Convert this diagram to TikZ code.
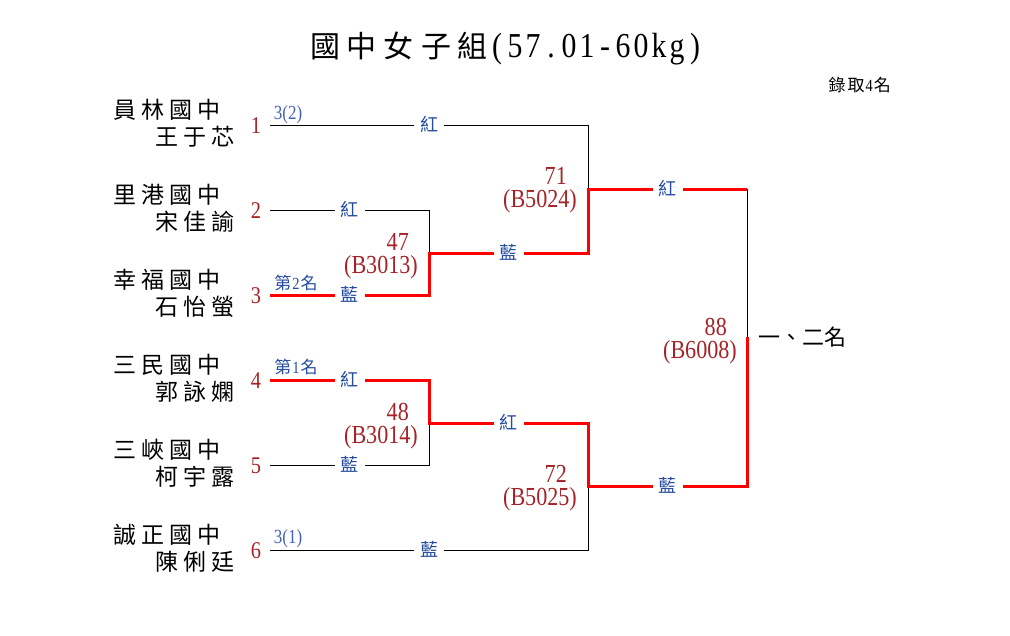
\documentclass[tikz,border=0pt]{standalone}
\usepackage{fontspec}
\setmainfont{Liberation Serif}[FakeStretch=0.85]
\newfontfamily\cjk{Noto Sans CJK TC}
\definecolor{lblue}{RGB}{35,75,160}
\definecolor{sblue}{RGB}{65,100,185}
\definecolor{dred}{RGB}{165,35,40}
\definecolor{wred}{RGB}{255,0,0}
\newcommand\ggap{\kern5pt}
\newcommand\tgap{\kern7pt}
\newcommand\hw[1]{\makebox[18pt]{#1}}
\begin{document}
\begin{tikzpicture}[x=1pt,y=-1pt,
  loseln/.style={draw=black,line width=1pt},
  winln/.style={draw=wred,line width=3pt,line join=miter},
  lbl/.style={fill=white,text=lblue,font=\cjk\fontsize{18}{18}\selectfont,inner sep=0pt,minimum width=30pt,minimum height=20pt,text height=15.8pt,text depth=2.2pt},
  school/.style={anchor=west,inner sep=0pt,font=\cjk\fontsize{23}{23}\selectfont,text height=20.2pt,text depth=2.8pt},
  seed/.style={inner sep=0pt,text=dred,font=\fontsize{24}{24}\selectfont,text height=18pt,text depth=2pt},
  mnum/.style={anchor=base east,inner sep=0pt,text=dred,align=right,font=\fontsize{26}{23.5}\selectfont},
  note/.style={inner sep=0pt,text=sblue,font=\fontsize{20}{20}\selectfont,text height=15pt,text depth=1.6pt},
  cnote/.style={inner sep=0pt,text=lblue,font=\fontsize{17}{17}\selectfont,text height=15pt,text depth=2pt}
]
\useasboundingbox (0,0) rectangle (1010,635);

% title
\node[inner sep=0pt,font=\fontsize{35}{35}\selectfont,text height=26.3pt,text depth=3.2pt] (title) at (507,46)
  {{\cjk\fontsize{30}{30}\selectfont 國\tgap 中\tgap 女\tgap 子\tgap 組}\hw{(}\hw{5}\hw{7}\hw{.}\hw{0}\hw{1}\hw{-}\hw{6}\hw{0}\hw{k}\hw{g}\hw{)}};
\node[inner sep=0pt,anchor=east,font=\fontsize{17}{17}\selectfont,text height=15pt,text depth=2pt] (quota) at (891,85)
  {{\cjk 錄\kern2pt 取}\kern1pt 4\kern1pt{\cjk 名}};

% schools and names
\node[school] (sc1) at (113,110) {員\ggap 林\ggap 國\ggap 中};
\node[school] (nm1) at (155,137) {王\ggap 于\ggap 芯};
\node[school] (sc2) at (113,195) {里\ggap 港\ggap 國\ggap 中};
\node[school] (nm2) at (155,222) {宋\ggap 佳\ggap 諭};
\node[school] (sc3) at (113,280) {幸\ggap 福\ggap 國\ggap 中};
\node[school] (nm3) at (155,307) {石\ggap 怡\ggap 螢};
\node[school] (sc4) at (113,365) {三\ggap 民\ggap 國\ggap 中};
\node[school] (nm4) at (155,392) {郭\ggap 詠\ggap 嫻};
\node[school] (sc5) at (113,450) {三\ggap 峽\ggap 國\ggap 中};
\node[school] (nm5) at (155,477) {柯\ggap 宇\ggap 露};
\node[school] (sc6) at (113,535) {誠\ggap 正\ggap 國\ggap 中};
\node[school] (nm6) at (155,562) {陳\ggap 俐\ggap 廷};

% seeds
\node[seed] (n1) at (256,125) {1};
\node[seed] (n2) at (256,210) {2};
\node[seed] (n3) at (256,295) {3};
\node[seed] (n4) at (256,380) {4};
\node[seed] (n5) at (256,465) {5};
\node[seed] (n6) at (256,550) {6};

% notes above lines
\node[note] (r1) at (288,113) {3(2)};
\node[note] (r6) at (288,537) {3(1)};
\node[cnote] (p2) at (296,283) {{\cjk 第}\kern1pt 2\kern1pt{\cjk 名}};
\node[cnote] (p1) at (296,367) {{\cjk 第}\kern1pt 1\kern1pt{\cjk 名}};

% coordinates
\coordinate (s1) at (270,125);
\coordinate (s2) at (270,210);
\coordinate (s3) at (270,295);
\coordinate (s4) at (270,380);
\coordinate (s5) at (270,465);
\coordinate (s6) at (270,550);
\coordinate (a2) at (429,210);
\coordinate (a3) at (429,295);
\coordinate (a4) at (429,380);
\coordinate (a5) at (429,465);
\coordinate (m47) at (429,253);
\coordinate (m48) at (429,423);
\coordinate (j1) at (588,125);
\coordinate (j6) at (588,550);
\coordinate (b47) at (588,253);
\coordinate (b48) at (588,423);
\coordinate (m71) at (588,189);
\coordinate (m72) at (588,486);
\coordinate (f71) at (747,189);
\coordinate (f72) at (747,486);
\coordinate (m88) at (747,337);

% losing lines
\draw[loseln] (s1) -- node[lbl]{紅} (j1) -- (m71);
\draw[loseln] (s2) -- node[lbl]{紅} (a2) -- (m47);
\draw[loseln] (s5) -- node[lbl]{藍} (a5) -- (m48);
\draw[loseln] (s6) -- node[lbl]{藍} (j6) -- (m72);
\draw[loseln] (f71) -- (m88);

% winning lines
\draw[winln] (s3) -- node[lbl]{藍} (a3) -- (m47) -- node[lbl]{藍} (b47) -- (m71) -- node[lbl]{紅} (f71);
\draw[winln] (s4) -- node[lbl]{紅} (a4) -- (m48) -- node[lbl]{紅} (b48) -- (m72) -- node[lbl]{藍} (f72) -- (m88);

% match numbers (reference point = baseline of the last line)
\node[mnum] (g47) at (418,273.5) {47\kern9pt\\(B3013)};
\node[mnum] (g48) at (418,443.5) {48\kern9pt\\(B3014)};
\node[mnum] (g71) at (577,207.5) {71\kern10pt\\(B5024)};
\node[mnum] (g72) at (577,505.5) {72\kern10pt\\(B5025)};
\node[mnum] (g88) at (737,358.5) {88\kern10pt\\(B6008)};

% final result
\node[inner sep=0pt,anchor=west,font=\cjk\fontsize{22}{22}\selectfont,text height=19.4pt,text depth=2.6pt] (fin) at (758,337) {一、二名};
\end{tikzpicture}
\end{document}
